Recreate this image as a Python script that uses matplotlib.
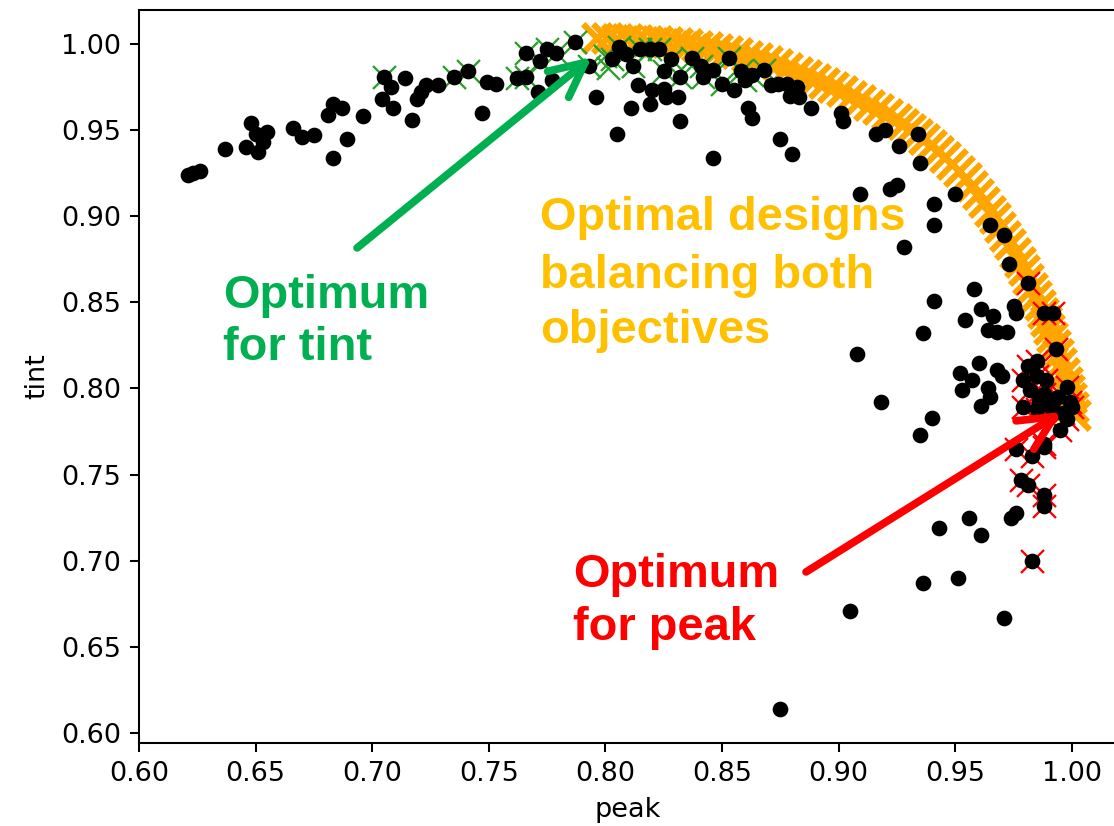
import matplotlib
matplotlib.use("Agg")
import matplotlib.pyplot as plt
from matplotlib.patches import FancyArrowPatch, ArrowStyle

# ---- all evaluated designs ----
peak = [0.621, 0.623, 0.626, 0.637, 0.646, 0.651, 0.648, 0.650, 0.653, 0.655,
        0.666, 0.670, 0.675, 0.683, 0.689, 0.681, 0.683, 0.687, 0.696, 0.704,
        0.709, 0.705, 0.708, 0.714, 0.717, 0.719, 0.721, 0.723, 0.728, 0.735,
        0.741, 0.747, 0.749, 0.753, 0.762, 0.766, 0.766, 0.771, 0.772, 0.775,
        0.779, 0.777, 0.787, 0.793, 0.796, 0.805, 0.806, 0.803, 0.809, 0.812,
        0.814, 0.811, 0.815, 0.819, 0.823, 0.828, 0.825, 0.832, 0.820, 0.825,
        0.819, 0.826, 0.831, 0.832, 0.837, 0.841, 0.842, 0.846, 0.850, 0.853,
        0.855, 0.858, 0.860, 0.861, 0.863, 0.846, 0.863, 0.868, 0.871, 0.875,
        0.880, 0.874, 0.878, 0.882, 0.879, 0.883, 0.888, 0.901, 0.902, 0.916,
        0.920, 0.926, 0.934, 0.935, 0.909, 0.922, 0.925, 0.941, 0.941, 0.950,
        0.928, 0.965, 0.971, 0.973, 0.981, 0.958, 0.941, 0.975, 0.976, 0.961,
        0.966, 0.954, 0.964, 0.968, 0.972, 0.988, 0.992, 0.936, 0.993, 0.908,
        0.985, 0.960, 0.952, 0.968, 0.970, 0.953, 0.957, 0.964, 0.965, 0.961,
        0.918, 0.940, 0.935, 0.981, 0.979, 0.985, 0.989, 0.998, 0.982, 0.988,
        0.994, 0.999, 0.979, 0.985, 0.991, 0.996, 0.995, 0.988, 0.986, 0.992,
        1.000, 0.998, 0.976, 0.983, 0.988, 0.978, 0.981, 0.988, 0.988, 0.956,
        0.974, 0.976, 0.943, 0.961, 0.983, 0.936, 0.951, 0.971, 0.905, 0.875]
tint = [0.924, 0.925, 0.926, 0.939, 0.940, 0.937, 0.954, 0.948, 0.943, 0.949,
        0.951, 0.946, 0.947, 0.934, 0.945, 0.959, 0.965, 0.963, 0.958, 0.968,
        0.963, 0.981, 0.975, 0.980, 0.956, 0.968, 0.972, 0.976, 0.976, 0.981,
        0.984, 0.960, 0.978, 0.977, 0.980, 0.981, 0.995, 0.972, 0.990, 0.997,
        0.995, 0.979, 1.001, 0.987, 0.969, 0.948, 0.998, 0.991, 0.994, 0.987,
        0.976, 0.963, 0.997, 0.997, 0.997, 0.991, 0.984, 0.981, 0.973, 0.974,
        0.965, 0.969, 0.969, 0.955, 0.992, 0.987, 0.981, 0.985, 0.977, 0.992,
        0.973, 0.984, 0.979, 0.963, 0.957, 0.934, 0.982, 0.985, 0.976, 0.945,
        0.936, 0.977, 0.977, 0.975, 0.970, 0.969, 0.963, 0.960, 0.955, 0.948,
        0.950, 0.941, 0.948, 0.931, 0.913, 0.916, 0.918, 0.907, 0.895, 0.913,
        0.882, 0.895, 0.889, 0.872, 0.861, 0.858, 0.851, 0.848, 0.844, 0.846,
        0.842, 0.840, 0.834, 0.833, 0.833, 0.844, 0.844, 0.832, 0.823, 0.820,
        0.816, 0.815, 0.809, 0.811, 0.807, 0.799, 0.805, 0.800, 0.795, 0.790,
        0.792, 0.783, 0.773, 0.813, 0.805, 0.807, 0.805, 0.801, 0.799, 0.797,
        0.795, 0.792, 0.789, 0.788, 0.789, 0.786, 0.776, 0.768, 0.793, 0.792,
        0.789, 0.782, 0.765, 0.761, 0.766, 0.747, 0.744, 0.738, 0.732, 0.725,
        0.725, 0.728, 0.719, 0.715, 0.700, 0.687, 0.690, 0.667, 0.671, 0.614]

# ---- best designs for tint ----
tint_best_peak = [0.705, 0.735, 0.741, 0.762, 0.766, 0.766, 0.772, 0.775, 0.779, 0.787,
                  0.793, 0.800, 0.801, 0.803, 0.806, 0.809, 0.812, 0.815, 0.819, 0.823,
                  0.828, 0.825, 0.832, 0.837, 0.841, 0.842, 0.846, 0.850, 0.853, 0.858,
                  0.860, 0.863, 0.868]
tint_best_tint = [0.981, 0.981, 0.984, 0.980, 0.981, 0.995, 0.990, 0.997, 0.995, 1.001,
                  0.987, 0.993, 0.986, 0.991, 0.998, 0.994, 0.987, 0.997, 0.997, 0.997,
                  0.991, 0.984, 0.981, 0.992, 0.987, 0.981, 0.985, 0.977, 0.992, 0.984,
                  0.979, 0.982, 0.985]

# ---- best designs for peak ----
peak_best_peak = [0.981, 0.988, 0.992, 0.993, 0.985, 0.981, 0.979, 0.985, 0.989, 0.998,
                  0.982, 0.988, 0.994, 0.999, 0.979, 0.985, 0.991, 0.996, 0.995, 0.988,
                  0.986, 0.992, 1.000, 0.998, 0.976, 0.983, 0.988, 0.978, 0.981, 0.988,
                  0.988, 0.983]
peak_best_tint = [0.861, 0.844, 0.844, 0.823, 0.816, 0.813, 0.805, 0.807, 0.805, 0.801,
                  0.799, 0.797, 0.795, 0.792, 0.789, 0.788, 0.789, 0.786, 0.776, 0.768,
                  0.793, 0.792, 0.789, 0.782, 0.765, 0.761, 0.766, 0.747, 0.744, 0.738,
                  0.732, 0.700]

# ---- Pareto-optimal front ----
front_peak = [0.7964, 0.8006, 0.8049, 0.8092, 0.8135, 0.8178, 0.8221, 0.8264, 0.8307, 0.8349,
              0.8392, 0.8435, 0.8478, 0.8521, 0.8564, 0.8607, 0.8649, 0.8692, 0.8735, 0.8778,
              0.8821, 0.8860, 0.8898, 0.8937, 0.8975, 0.9014, 0.9052, 0.9091, 0.9130, 0.9168,
              0.9207, 0.9245, 0.9275, 0.9305, 0.9335, 0.9365, 0.9395, 0.9425, 0.9455, 0.9485,
              0.9515, 0.9545, 0.9571, 0.9597, 0.9623, 0.9648, 0.9670, 0.9691, 0.9713, 0.9734,
              0.9756, 0.9777, 0.9794, 0.9811, 0.9828, 0.9846, 0.9863, 0.9876, 0.9889, 0.9901,
              0.9914, 0.9927, 0.9940, 0.9953, 0.9966, 0.9979, 0.9987, 0.9996, 1.0004, 1.0013]
front_tint = [1.0035, 1.0032, 1.0029, 1.0026, 1.0023, 1.0017, 1.0015, 1.0012, 1.0006, 0.9997,
              0.9988, 0.9980, 0.9971, 0.9959, 0.9948, 0.9930, 0.9919, 0.9901, 0.9881, 0.9861,
              0.9837, 0.9817, 0.9797, 0.9774, 0.9750, 0.9724, 0.9698, 0.9672, 0.9646, 0.9620,
              0.9591, 0.9562, 0.9536, 0.9507, 0.9477, 0.9446, 0.9414, 0.9379, 0.9341, 0.9303,
              0.9263, 0.9219, 0.9173, 0.9126, 0.9080, 0.9030, 0.8990, 0.8938, 0.8885, 0.8836,
              0.8787, 0.8734, 0.8685, 0.8636, 0.8583, 0.8534, 0.8485, 0.8438, 0.8392, 0.8345,
              0.8299, 0.8252, 0.8200, 0.8145, 0.8090, 0.8038, 0.7991, 0.7942, 0.7893, 0.7846]

DPI = 185
W, H = 1114, 826
plt.rcParams["font.size"] = 10.5
fig = plt.figure(figsize=(W / DPI, H / DPI), dpi=DPI)
ax = fig.add_axes([139 / W, 83 / H, 977 / W, 733 / H])

ax.scatter(front_peak, front_tint, marker="x", s=125, c="orange", linewidths=2.4, zorder=2)
ax.scatter(tint_best_peak, tint_best_tint, marker="x", s=80, c="#2ca02c", linewidths=0.9, zorder=3)
ax.scatter(peak_best_peak, peak_best_tint, marker="x", s=80, c="red", linewidths=0.9, zorder=3)
ax.scatter(peak, tint, marker="o", s=26, c="black", zorder=4)

ax.set_xlim(0.60, 1.0189)
ax.set_ylim(0.5942, 1.0197)
ax.set_xticks([0.60, 0.65, 0.70, 0.75, 0.80, 0.85, 0.90, 0.95, 1.00])
ax.set_yticks([0.60, 0.65, 0.70, 0.75, 0.80, 0.85, 0.90, 0.95, 1.00])
ax.set_xlabel("peak")
ax.set_ylabel("tint")


def fig_xy(px, py):
    return px / W, 1 - py / H


# annotation text (baseline positioned, one line at a time)
font = dict(family=["Liberation Sans", "DejaVu Sans"], weight="bold", size=18.3)
GREEN, GOLD, RED = "#00B050", "#FFC000", "#FF0000"
for txt, px, py, col in [
    ("Optimum", 223, 308, GREEN), ("for tint", 223, 360, GREEN),
    ("Optimal designs", 540, 230, GOLD), ("balancing both", 540, 288, GOLD),
    ("objectives", 540, 343, GOLD),
    ("Optimum", 573, 587, RED), ("for peak", 573, 640, RED),
]:
    x, y = fig_xy(px, py)
    fig.text(x, y, txt, color=col, ha="left", va="baseline", **font)

# arrows pointing at the two single-objective optima
style = ArrowStyle("->", head_length=13.5, head_width=6.5)
for (x0, y0), (x1, y1), col in [
    ((0.6935, 0.8816), (0.7942, 0.9925), GREEN),
    ((0.8860, 0.6935), (0.9957, 0.7864), RED),
]:
    arr = FancyArrowPatch((x0, y0), (x1, y1), arrowstyle=style, mutation_scale=1,
                          shrinkA=0, shrinkB=0,
                          color=col, lw=3.0, capstyle="round", joinstyle="round",
                          zorder=6, clip_on=False)
    ax.add_patch(arr)

fig.savefig("out.png", dpi=DPI)
